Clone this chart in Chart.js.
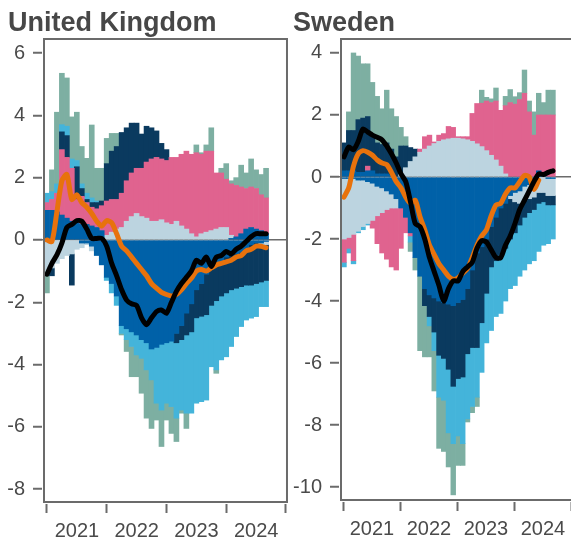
<!DOCTYPE html>
<html lang="en">
<head>
<meta charset="UTF-8">
<script src="https://cdn.jsdelivr.net/npm/chart.js"></script>
<title>UK and Sweden</title>
<style>
  body { margin: 0; width: 571px; height: 540px; overflow: hidden; position: relative; background: #fff; }
  .panel { position: absolute; top: 0; height: 540px; }
  .title { position: absolute; top: 9px; font: bold 27px/27px "Liberation Sans", Arial, sans-serif; color: #474747; white-space: nowrap; }
</style>
</head>
<body>
  <div class="panel" style="left:0;width:292px"><canvas id="ukChart" width="292" height="540"></canvas></div>
  <div class="panel" style="left:291px;width:290px"><canvas id="seChart" width="290" height="540"></canvas></div>
  <div class="title" style="left:8px">United Kingdom</div>
  <div class="title" style="left:293px">Sweden</div>

<script>
  // months shown, one bar per month
  const months = ['2021-01','2021-02','2021-03','2021-04','2021-05','2021-06','2021-07','2021-08','2021-09','2021-10','2021-11','2021-12',
    '2022-01','2022-02','2022-03','2022-04','2022-05','2022-06','2022-07','2022-08','2022-09','2022-10','2022-11','2022-12',
    '2023-01','2023-02','2023-03','2023-04','2023-05','2023-06','2023-07','2023-08','2023-09','2023-10','2023-11','2023-12',
    '2024-01','2024-02','2024-03','2024-04','2024-05','2024-06','2024-07','2024-08','2024-09']

  const yearTicks = [0, 12, 24, 36, 48]
  const yearLabels = ['2021', '2022', '2023', '2024', '']
  const ukYTicks = [6, 4, 2, 0, -2, -4, -6, -8]
  const seYTicks = [4, 2, 0, -2, -4, -6, -8, -10]

  // United Kingdom
  const ukBlueUp = [0.95,0.95,0.9,0.8,0.7,0.6,0.55,0.5,0.5,0.45,0.4,0.3,0,0,0,0,0,0,0,0,0,0,0,0,0,0,0,0,0,0,0,0,0,0,0,0,0,0.05,0.1,0.2,0.35,0.4,0.35,0.3,0.2]
  const ukBlueDown = [0,0,0,0,0,0,0,-0.1,-0.1,-0.2,-0.5,-0.8,-1.2,-1.4,-1.8,-2.75,-2.85,-2.95,-3.05,-3.2,-3.3,-3.5,-3.45,-3.35,-3.3,-3.25,-3.0,-2.75,-2.35,-2.05,-1.6,-1.4,-1.1,-0.85,-0.75,-0.7,-0.55,-0.5,-0.45,-0.4,-0.3,-0.15,-0.1,-0.1,-0.05]
  const ukGrey = [-1.0,-0.9,-0.75,-0.6,-0.5,-0.45,-0.3,-0.15,-0.05,-0.15,0,0,0.15,0.25,0.35,0.4,0.6,0.75,0.85,0.75,0.7,0.6,0.6,0.65,0.55,0.5,0.6,0.45,0.35,0.2,0.1,0.2,0.25,0.3,0.35,0.4,0.4,0.1,0,0,0,0,0,-0.1,-0.1]
  const ukPink = [0.25,0.35,0.6,2.1,1.95,1.7,0.75,0.9,0.7,0.6,0.6,0.8,1.1,1.05,0.95,1.1,1.3,1.4,1.45,1.55,1.8,2.0,2.05,1.95,2.0,2.15,2.05,2.3,2.5,2.55,2.7,2.55,2.6,2.55,1.8,1.75,1.55,1.65,1.65,1.5,1.3,1.3,1.3,1.15,1.15]
  const ukNavy = [0,-0.25,0,0.57,0.7,-1.0,1.05,0.25,0.1,0.15,0.2,0.15,1.2,1.55,1.7,1.95,1.7,1.6,1.45,1.1,1.15,1.0,0.85,0.5,0.35,0,-0.3,-0.45,-0.7,-0.9,-0.9,-1.05,-1.3,-1.25,-1.2,-1.1,-1.15,-1.1,-1.1,-1.1,-1.15,-1.3,-1.3,-1.15,-1.15]
  const ukCyan = [0.3,0.25,0.3,0.23,0.3,0.3,0.2,0.15,0.2,0.15,0.05,0,-0.1,-0.3,-0.3,-0.25,-0.35,-0.47,-0.64,-0.6,-0.87,-0.99,-1.79,-2.11,-1.94,-2.1,-2.42,-2.26,-2.51,-2.61,-2.74,-2.74,-2.74,-1.97,-2.22,-2.05,-2.05,-1.82,-1.55,-1.28,-1.12,-1.06,-1.06,-0.79,-0.84]
  const ukTeal = [-0.7,0.7,2.3,1.65,1.55,1.35,1.55,1.2,1.12,2.34,1.05,1.05,0.81,0.57,0.42,-0.05,-0.38,-0.97,-0.7,-1.12,-1.55,-1.56,-0.54,-1.17,-0.54,-0.86,-0.75,-0.1,-0.49,0,0.25,0.05,0.2,0.75,-0.11,0.15,0.5,0.1,0.25,0.7,0.5,0.9,0.6,0.65,0.95]
  const ukOrange = [0,-0.05,0.9,1.9,2.1,1.3,1.45,1.2,1.05,0.85,0.6,0.45,0.62,0.55,0.2,-0.2,-0.35,-0.55,-0.75,-0.95,-1.15,-1.4,-1.55,-1.68,-1.75,-1.8,-1.75,-1.6,-1.4,-1.23,-1.0,-0.95,-1.0,-0.9,-0.8,-0.75,-0.7,-0.65,-0.55,-0.5,-0.35,-0.3,-0.2,-0.2,-0.25]
  const ukBlack = [-1.1,-0.75,-0.48,-0.1,0.4,0.5,0.62,0.6,0.35,0.05,0.05,0.05,-0.2,-0.75,-1.15,-1.6,-1.93,-2.05,-2.1,-2.5,-2.72,-2.5,-2.3,-2.25,-2.35,-2.0,-1.65,-1.4,-1.2,-1.0,-0.65,-0.75,-0.55,-0.85,-0.55,-0.5,-0.37,-0.45,-0.3,-0.2,-0.05,0.1,0.2,0.2,0.2]

  // Sweden
  const seBlueUp = [0.2,0.2,0.2,0.15,0.15,0.2,0.2,0.1,0.1,0.1,0.05,0,0,0,0,0,0,0,0,0,0,0,0,0,0,0,0,0,0,0,0,0,0,0,0,0,0,0,0,0,0,0.2,0.1,0,0]
  const seBlueDown = [-0.05,-0.05,-0.05,-0.1,-0.1,-0.15,-0.2,-0.3,-0.35,-0.45,-0.55,-0.7,-1.0,-1.3,-1.8,-2.6,-3.2,-3.6,-3.8,-3.9,-4.0,-4.05,-4.1,-4.15,-4.05,-3.95,-3.6,-3.0,-2.45,-2.25,-2.0,-1.6,-1.3,-1.0,-0.85,-0.6,-0.5,-0.45,-0.3,-0.25,-0.15,0,0,-0.05,-0.05]
  const seGrey = [-1.95,-1.9,-1.8,-1.65,-1.5,-1.35,-1.2,-0.95,-0.8,-0.6,-0.45,-0.3,0.1,0.3,0.5,0.65,0.8,0.9,1.0,1.08,1.15,1.2,1.23,1.25,1.25,1.23,1.2,1.15,1.07,0.98,0.85,0.7,0.55,0.35,0.1,-0.1,-0.3,-0.4,-0.45,-0.45,-0.5,-0.5,-0.5,-0.55,-0.55]
  const sePink = [-0.75,-0.35,-0.85,0,0,0.15,-0.25,-0.9,-1.3,-1.6,-1.9,-2.0,-1.3,-0.5,-0.1,0,0.1,0.4,0.35,0.05,0.2,0.2,0.4,0.35,0.05,0.07,0.1,0.9,1.3,1.4,1.6,1.7,1.9,1.8,2.2,2.4,2.35,2.5,2.7,2.1,1.35,1.8,1.9,2.0,2.0]
  const seNavy = [0.9,1.3,1.3,1.7,1.75,1.6,1.1,1.0,0.95,1.0,0.85,0.65,0.9,0.7,0.45,0.25,0,-0.55,-0.7,-1.1,-1.75,-1.8,-2.1,-2.6,-2.45,-2.5,-2.1,-2.5,-3.05,-2.45,-1.75,-1.3,-1.4,-1.5,-1.45,-1.3,-1.0,-0.7,-0.55,-0.45,-0.4,-0.35,-0.3,-0.3,-0.3]
  const seCyan = [-0.15,-0.15,-0.1,-0.05,-0.1,-0.05,0,0,0,0,0,0,0,0,-0.2,0,0,0,-0.3,-0.6,-1.35,-1.35,-2.05,-1.85,-1.85,-2.15,-2.1,-1.9,-1.6,-1.6,-1.6,-2.05,-1.8,-1.9,-1.7,-1.6,-1.7,-1.65,-1.7,-1.65,-1.65,-1.55,-1.4,-1.25,-1.1]
  const seTeal = [0,0.6,2.5,2.05,1.75,1.7,1.75,1.5,1.15,1.7,1.3,1.3,0.6,0.3,-0.3,-0.4,-2.4,-1.65,-1.0,-1.3,-1.65,-1.65,-1.1,-1.65,-0.95,-0.7,-0.1,-0.2,-0.3,0.42,0.12,0.12,0.42,0,0.3,0.42,0.24,0.22,0.75,0.35,0.75,0.7,0.4,0.8,0.8]
  const seOrange = [-0.65,-0.35,0.35,0.75,0.85,0.8,0.7,0.55,0.45,0.4,0.15,-0.15,-0.35,-0.65,-0.85,-0.75,-1.28,-1.7,-2.2,-2.5,-2.8,-3.0,-3.2,-3.3,-3.25,-3.1,-2.95,-2.6,-2.2,-1.9,-1.7,-1.25,-0.9,-0.85,-0.55,-0.35,-0.35,-0.15,0.05,0,-0.4,-0.1,null,null,null]
  const seBlack = [0.65,0.97,0.88,1.15,1.55,1.45,1.35,1.28,1.2,1.0,0.75,0.45,0.1,-0.15,-0.8,-1.5,-1.6,-2.0,-2.6,-3.05,-3.5,-4.0,-3.6,-3.35,-3.35,-3.05,-2.9,-2.75,-2.3,-2.05,-2.1,-2.35,-2.6,-2.6,-2.2,-1.9,-1.5,-1.05,-0.75,-0.45,-0.15,0.1,0.08,0.15,0.2]

  const colours = {
    blue: '#0061a8',
    grey: '#bcd4e0',
    pink: '#e0638f',
    navy: '#0a3a5f',
    cyan: '#44b4da',
    teal: '#7dafa2',
    orange: '#e8720c',
    black: '#000000'
  }

  Chart.defaults.font.family = '"Liberation Sans", Arial, sans-serif'
  Chart.defaults.font.size = 20
  Chart.defaults.color = '#4a4a4a'

  // month string -> months since Jan 2021
  const monthX = months.map(m => (Number(m.slice(0, 4)) - 2021) * 12 + Number(m.slice(5, 7)) - 1)

  function points(values) {
    return values.map((v, i) => ({ x: monthX[i], y: v === 0 ? null : v }))
  }

  function linePoints(values) {
    return values.map((v, i) => ({ x: monthX[i], y: v }))
  }

  function barSet(values, colour) {
    return {
      type: 'bar',
      data: points(values),
      backgroundColor: colour,
      borderWidth: 0,
      stack: 'bars',
      barPercentage: 1,
      categoryPercentage: 1
    }
  }

  function lineSet(values, colour, stackName, order) {
    return {
      type: 'line',
      data: linePoints(values),
      borderColor: colour,
      borderWidth: 5,
      pointRadius: 0,
      tension: 0.25,
      borderJoinStyle: 'round',
      borderCapStyle: 'round',
      stack: stackName,
      order: order
    }
  }

  // box around the plot, set 2px inside the axes like the original
  const framePlugin = {
    id: 'frame',
    afterDatasetsDraw(chart) {
      const { ctx, chartArea } = chart
      ctx.save()
      ctx.strokeStyle = '#6b6b6b'
      ctx.lineWidth = 2
      ctx.strokeRect(chartArea.left + 2, chartArea.top, chartArea.right - chartArea.left - 2, chartArea.bottom - chartArea.top - 2)
      ctx.restore()
    }
  }

  function plotarPainel(canvasId, series, cfg) {
    const ctx = document.getElementById(canvasId)
    new Chart(ctx, {
      data: {
        datasets: [
          barSet(series.blueUp, colours.blue),
          barSet(series.blueDown, colours.blue),
          barSet(series.grey, colours.grey),
          barSet(series.pink, colours.pink),
          barSet(series.navy, colours.navy),
          barSet(series.cyan, colours.cyan),
          barSet(series.teal, colours.teal),
          lineSet(series.orange, colours.orange, 'orange', -1),
          lineSet(series.black, colours.black, 'black', -2)
        ]
      },
      plugins: [framePlugin],
      options: {
        responsive: false,
        animation: false,
        layout: { padding: { top: 39, right: cfg.padRight, left: 0, bottom: 0 } },
        plugins: { legend: { display: false }, tooltip: { enabled: false } },
        scales: {
          x: {
            type: 'linear',
            min: cfg.xMin,
            max: cfg.xMax,
            offset: false,
            stacked: true,
            afterBuildTicks: (scale) => { scale.ticks = yearTicks.map(v => ({ value: v })) },
            afterFit: (scale) => { scale.height = cfg.xHeight },
            ticks: {
              autoSkip: false,
              maxRotation: 0,
              padding: 6,
              labelOffset: cfg.labelOffset,
              color: '#4a4a4a',
              callback: (v) => yearLabels[yearTicks.indexOf(v)]
            },
            grid: { offset: false, drawOnChartArea: false, tickLength: 9, tickColor: '#6b6b6b', tickWidth: 2 },
            border: { display: false }
          },
          y: {
            min: cfg.yMin,
            max: cfg.yMax,
            stacked: true,
            afterBuildTicks: (scale) => { scale.ticks = cfg.yTicks.map(v => ({ value: v })) },
            afterFit: (scale) => { scale.width = cfg.yWidth },
            ticks: { padding: 8, color: '#4a4a4a' },
            grid: {
              color: (c) => c.tick && c.tick.value === 0 ? '#6b6b6b' : 'rgba(0,0,0,0)',
              lineWidth: 1.5,
              tickLength: 9,
              tickColor: '#6b6b6b',
              tickWidth: 2
            },
            border: { display: false }
          }
        }
      }
    })
  }

  plotarPainel('ukChart', {
    blueUp: ukBlueUp, blueDown: ukBlueDown, grey: ukGrey, pink: ukPink, navy: ukNavy,
    cyan: ukCyan, teal: ukTeal, orange: ukOrange, black: ukBlack
  }, { xMin: -0.99, xMax: 48.2, yMin: -8.475, yMax: 6.45, yTicks: ukYTicks, yWidth: 42, xHeight: 36, padRight: 2, labelOffset: 30 })

  plotarPainel('seChart', {
    blueUp: seBlueUp, blueDown: seBlueDown, grey: seGrey, pink: sePink, navy: seNavy,
    cyan: seCyan, teal: seTeal, orange: seOrange, black: seBlack
  }, { xMin: -1.05, xMax: 49.9, yMin: -10.48, yMax: 4.45, yTicks: seYTicks, yWidth: 48, xHeight: 38, padRight: 0, labelOffset: 28 })
</script>
</body>
</html>
